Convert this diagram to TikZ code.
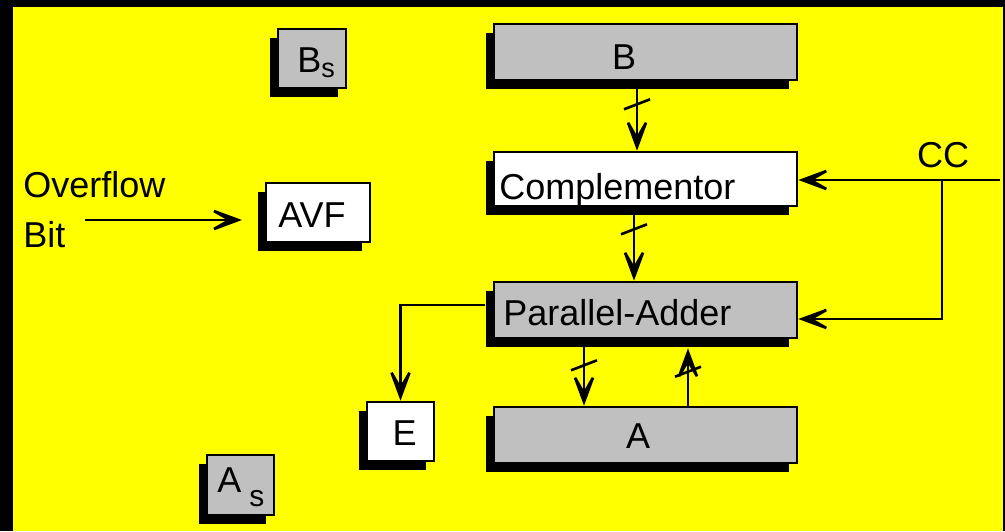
\documentclass[tikz,border=0pt]{standalone}
\usepackage{fontspec}
\setmainfont{Liberation Sans}
\usetikzlibrary{arrows.meta,shadows,decorations.markings,calc}
\definecolor{bgyellow}{RGB}{255,255,0}
\definecolor{reggray}{RGB}{192,192,192}

\begin{document}
\begin{tikzpicture}[x=0.5pt,y=-0.5pt,line width=1.3pt,font=\fontsize{18}{20}\selectfont]
  \tikzstyle{sig}=[-{Stealth[length=21pt,width=15.5pt,inset=13.5pt]}]
  \tikzstyle{reg}=[draw=black,line width=1.3pt,inner sep=0pt,
                   drop shadow={shadow xshift=-4pt,shadow yshift=-4.5pt,fill=black,opacity=1}]
  \tikzstyle{gray reg}=[reg,fill=reggray]
  \tikzstyle{white reg}=[reg,fill=white]
  \tikzstyle{lbl}=[inner sep=0pt,anchor=base]
  \tikzset{bus/.style={postaction={decorate,decoration={markings,
    mark=at position #1 with {\draw[-] (2.5pt,-6.5pt) -- (-2.5pt,6.5pt);}}}}}

  % frame
  \fill[black] (0,0) rectangle (1005,531);
  \fill[bgyellow] (13,7) rectangle (1003,531);

  % registers
  \node[gray reg,minimum width=151.5pt,minimum height=28pt]  (B)    at (645.5,52)   {};
  \node[white reg,minimum width=151.5pt,minimum height=27pt] (Comp) at (645.5,179)  {};
  \node[gray reg,minimum width=151.5pt,minimum height=28pt]  (PA)   at (645.5,310)  {};
  \node[gray reg,minimum width=151.5pt,minimum height=28pt]  (A)    at (645.5,435)  {};
  \node[gray reg,minimum width=34pt,minimum height=29.5pt]   (Bs)   at (312,58.5)   {};
  \node[white reg,minimum width=52pt,minimum height=29.5pt]  (AVF)  at (318,212.5)  {};
  \node[white reg,minimum width=33.5pt,minimum height=29.5pt] (E)   at (400.5,431.5) {};
  \node[gray reg,minimum width=33.5pt,minimum height=30pt]   (As)   at (240.5,485)  {};

  % labels
  \node[lbl] (Btxt) at (624,69) {B};
  \node[lbl,anchor=base west] (Comptxt) at (498,199) {Complementor};
  \node[lbl,anchor=base west] (PAtxt) at (502,325) {Parallel-Adder};
  \node[lbl] (Atxt) at (638,448) {A};
  \node[lbl] (AVFtxt) at (312,227) {AVF};
  \node[lbl] (Etxt) at (404.5,445) {E};
  \node[lbl,anchor=base west] (Bstxt) at (296,72) {B\raisebox{-2.5pt}{\fontsize{13.5}{14}\selectfont s}};
  \node[lbl,anchor=base west] (Astxt) at (216,492) {A\kern4pt\raisebox{-7pt}{\fontsize{15}{16}\selectfont s}};
  \node[lbl,anchor=base west] (ovf) at (22,197) {Overflow};
  \node[lbl,anchor=base west] (bit) at (22,247) {Bit};
  \node[lbl] (CC) at (943,167) {CC};

  \coordinate (ovfin)  at (85,220);
  \coordinate (ovfout) at (242,220);
  \coordinate (ccin)   at (1000,180);
  \coordinate (ccj)    at (942,180);
  \coordinate (ccb)    at (942,319);

  % connections
  \draw[sig] (ovfin) -- (ovfout);
  \draw[sig] (ccin) -- (ccin -| Comp.east);
  \draw[sig] (ccj) -- (ccb) -- (ccb -| PA.east);
  \draw[sig,bus=11.5pt] ($(B.south)+(-8.5,0)$) -- ($(Comp.north)+(-8.5,0)$);
  \draw[sig,bus=11pt] ($(Comp.south)+(-11.5,0)$) -- ($(PA.north)+(-11.5,0)$);
  \draw[sig,bus=13pt] ($(PA.south)+(-61.5,0)$) -- ($(A.north)+(-61.5,0)$);
  \draw[sig,bus=17pt] ($(A.north)+(42.5,0)$) -- ($(PA.south)+(42.5,9)$);
  \draw[sig] ($(PA.west)+(-8,-5)$) -| (E.north);
\end{tikzpicture}
\end{document}
